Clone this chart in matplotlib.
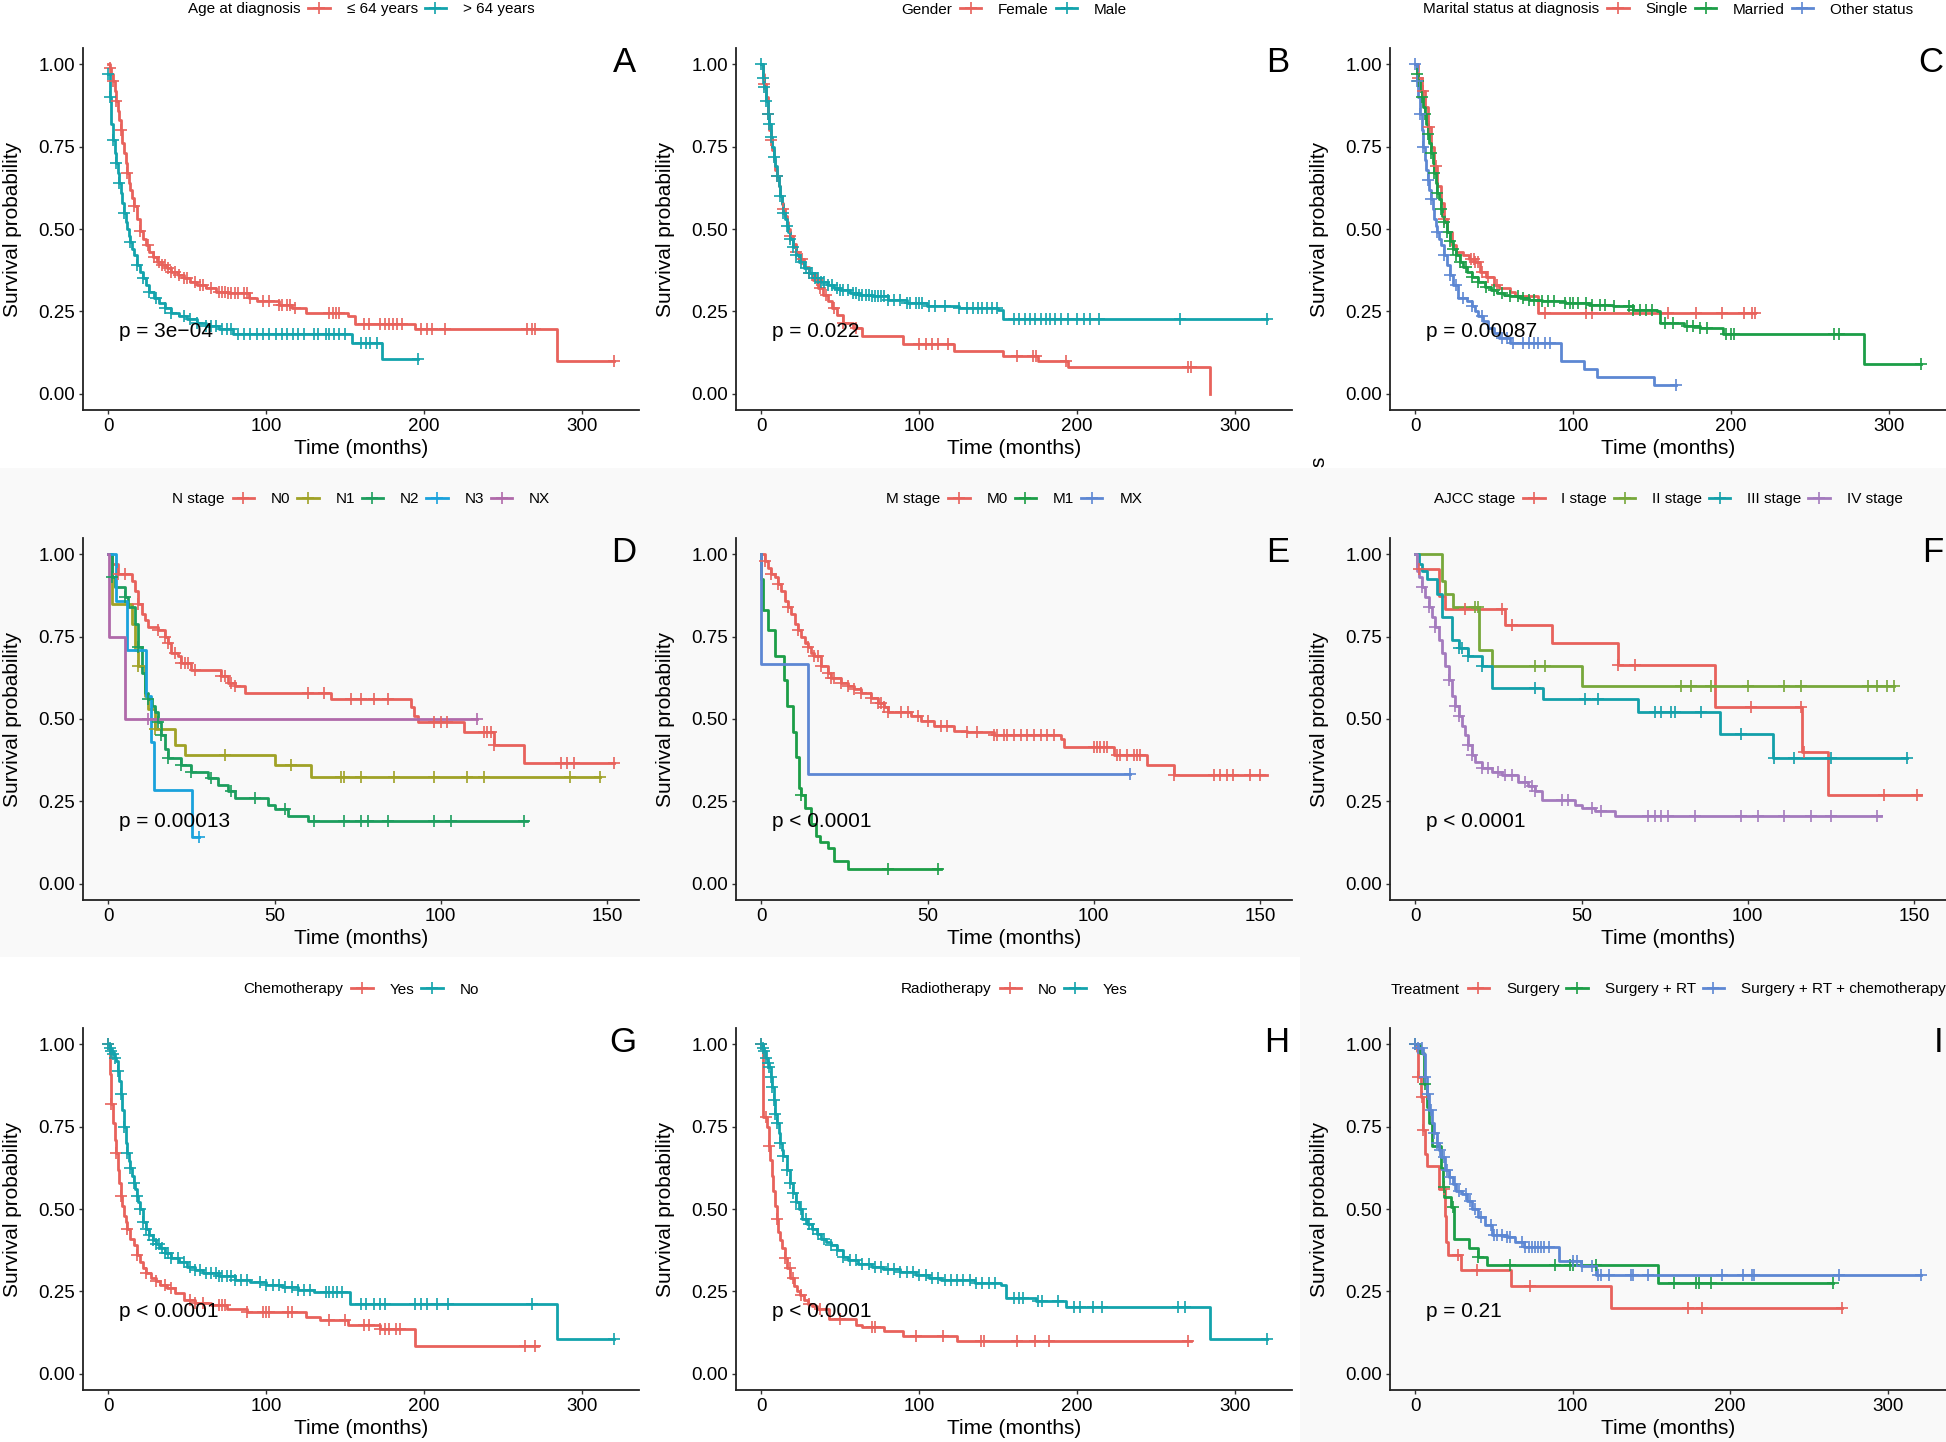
import numpy as np
import matplotlib
matplotlib.use('Agg')
import matplotlib.pyplot as plt
from matplotlib.lines import Line2D
from matplotlib.patches import Rectangle
from matplotlib.offsetbox import HPacker

plt.rcParams['font.family'] = ['Liberation Sans', 'DejaVu Sans']

# ---- colours (ggplot hue palettes as they look in the figure)
red = '#E8625C'
teal = '#13A3AC'
green3 = '#1C9E47'
blue3 = '#5D87D3'

# ---- A: age at diagnosis
a_labels = ['\u2264 64 years', '> 64 years']
a_times = [
    [0, 1, 2, 3, 4, 5, 6, 7, 8, 9, 10, 11, 12, 13, 14, 15, 16, 18, 20, 22, 24, 26, 28, 31, 34, 37, 40, 44, 48, 52,
     56, 62, 68, 76, 89, 94, 108, 116, 125, 152, 156, 194, 284, 320],
    [0, 1, 2, 3, 4, 5, 6, 7, 8, 9, 10, 11, 12, 13, 14, 15, 16, 18, 20, 22, 24, 26, 29, 32, 36, 40, 45, 50, 56, 62,
     70, 79, 154, 173, 196]]
a_surv = [
    [1.0, 0.99, 0.97, 0.95, 0.92, 0.89, 0.86, 0.83, 0.80, 0.76, 0.73, 0.70, 0.67, 0.64, 0.62, 0.595, 0.57, 0.53,
     0.495, 0.47, 0.45, 0.43, 0.415, 0.40, 0.39, 0.38, 0.37, 0.36, 0.35, 0.34, 0.33, 0.32, 0.31, 0.305, 0.29, 0.28,
     0.27, 0.26, 0.245, 0.235, 0.21, 0.195, 0.10, 0.10],
    [0.97, 0.90, 0.82, 0.77, 0.73, 0.70, 0.67, 0.64, 0.61, 0.58, 0.55, 0.52, 0.50, 0.48, 0.46, 0.44, 0.42, 0.39,
     0.37, 0.35, 0.33, 0.31, 0.29, 0.275, 0.26, 0.245, 0.235, 0.225, 0.215, 0.205, 0.195, 0.18, 0.155, 0.105, 0.105]]
a_cens = [
    [1, 3, 5, 8, 12, 16, 20, 25, 29, 32, 34, 36, 38, 40, 42, 45, 48, 50, 55, 58, 60, 65, 70, 72, 74, 76, 78, 80, 82,
     86, 88, 90, 98, 102, 108, 110, 113, 115, 118, 140, 142, 144, 146, 162, 165, 172, 175, 178, 180, 183, 186, 198,
     202, 205, 213, 265, 268, 270, 320],
    [0, 1, 3, 5, 7, 10, 14, 18, 22, 26, 30, 36, 40, 48, 52, 56, 62, 65, 68, 72, 75, 78, 82, 86, 90, 94, 98, 102, 106,
     110, 113, 117, 120, 124, 130, 133, 138, 140, 143, 146, 150, 160, 163, 166, 170, 196]]

# ---- B: gender
b_labels = ['Female', 'Male']
b_times = [
    [0, 1, 2, 3, 4, 5, 6, 7, 8, 9, 10, 11, 12, 13, 14, 15, 16, 17, 18, 20, 22, 24, 27, 30, 33, 36, 39, 42, 45, 48,
     52, 58, 64, 90, 122, 153, 175, 194, 284],
    [0, 1, 2, 3, 4, 5, 6, 7, 8, 9, 10, 11, 12, 13, 14, 15, 16, 17, 18, 20, 22, 24, 27, 30, 34, 38, 42, 46, 50, 56,
     62, 70, 80, 92, 105, 125, 150, 153, 320]]
b_surv = [
    [1.0, 0.97, 0.94, 0.90, 0.85, 0.80, 0.77, 0.74, 0.71, 0.68, 0.66, 0.63, 0.60, 0.58, 0.56, 0.54, 0.52, 0.50,
     0.48, 0.455, 0.43, 0.41, 0.385, 0.365, 0.345, 0.32, 0.30, 0.28, 0.26, 0.24, 0.215, 0.20, 0.175, 0.15, 0.13,
     0.115, 0.10, 0.08, 0.0],
    [1.0, 0.96, 0.93, 0.89, 0.85, 0.82, 0.78, 0.75, 0.72, 0.69, 0.66, 0.63, 0.60, 0.575, 0.55, 0.53, 0.51, 0.49,
     0.47, 0.445, 0.42, 0.40, 0.38, 0.365, 0.35, 0.34, 0.33, 0.32, 0.315, 0.305, 0.30, 0.295, 0.285, 0.275, 0.265,
     0.26, 0.255, 0.225, 0.225]]
b_cens = [
    [2, 4, 6, 10, 14, 18, 22, 26, 30, 35, 37, 41, 46, 52, 60, 100, 104, 108, 112, 118, 162, 172, 174, 193, 270, 272],
    [0, 1, 2, 3, 4, 5, 6, 8, 10, 12, 14, 16, 18, 20, 22, 25, 28, 30, 32, 34, 36, 38, 40, 42, 45, 48, 50, 52, 55, 58,
     60, 62, 64, 66, 68, 70, 72, 74, 76, 78, 80, 84, 88, 92, 94, 98, 100, 102, 106, 110, 116, 125, 130, 134, 137,
     140, 143, 146, 149, 160, 163, 167, 170, 173, 177, 180, 183, 186, 190, 194, 200, 204, 208, 214, 265, 320]]

# ---- C: marital status
c_labels = ['Single', 'Married', 'Other status']
c_times = [
    [0, 2, 4, 6, 8, 10, 12, 14, 16, 18, 20, 23, 26, 30, 34, 38, 41, 45, 50, 53, 60, 63, 78, 215],
    [0, 1, 2, 3, 4, 5, 6, 7, 8, 9, 10, 11, 12, 13, 14, 15, 16, 17, 18, 20, 22, 24, 26, 28, 30, 33, 36, 40, 44, 48,
     52, 56, 60, 66, 72, 80, 95, 110, 125, 138, 153, 155, 170, 180, 195, 284, 320],
    [0, 1, 2, 3, 4, 5, 6, 7, 8, 9, 10, 11, 12, 13, 14, 15, 16, 18, 20, 22, 24, 27, 33, 36, 38, 40, 43, 46, 50, 53,
     60, 92, 107, 115, 151, 165]]
c_surv = [
    [1.0, 0.96, 0.92, 0.87, 0.81, 0.75, 0.69, 0.63, 0.58, 0.53, 0.49, 0.45, 0.43, 0.42, 0.41, 0.40, 0.37, 0.355,
     0.33, 0.32, 0.31, 0.295, 0.245, 0.245],
    [1.0, 0.97, 0.95, 0.92, 0.90, 0.87, 0.85, 0.82, 0.79, 0.76, 0.73, 0.70, 0.67, 0.64, 0.61, 0.59, 0.56, 0.54,
     0.52, 0.49, 0.465, 0.44, 0.42, 0.40, 0.385, 0.37, 0.355, 0.34, 0.325, 0.315, 0.305, 0.30, 0.295, 0.29, 0.285,
     0.28, 0.275, 0.27, 0.265, 0.255, 0.25, 0.215, 0.205, 0.20, 0.18, 0.09, 0.09],
    [1.0, 0.95, 0.90, 0.85, 0.80, 0.75, 0.71, 0.68, 0.65, 0.62, 0.59, 0.56, 0.53, 0.51, 0.49, 0.47, 0.45, 0.42,
     0.39, 0.36, 0.33, 0.29, 0.28, 0.265, 0.25, 0.235, 0.22, 0.20, 0.185, 0.17, 0.155, 0.10, 0.075, 0.05, 0.025,
     0.025]]
c_cens = [
    [2, 5, 9, 13, 18, 35, 37, 38, 40, 42, 46, 52, 82, 108, 112, 160, 178, 194, 208, 213, 215],
    [1, 2, 4, 6, 8, 10, 12, 14, 16, 18, 20, 22, 24, 26, 28, 32, 36, 40, 45, 50, 55, 60, 65, 68, 72, 75, 80, 84, 88,
     95, 98, 100, 103, 108, 112, 117, 120, 126, 135, 138, 142, 146, 150, 158, 163, 172, 176, 180, 185, 197, 200,
     202, 265, 268, 320],
    [0, 1, 3, 5, 8, 10, 14, 18, 22, 26, 30, 36, 42, 55, 58, 62, 68, 72, 75, 78, 82, 85, 165]]

# ---- D: N stage
d_labels = ['N0', 'N1', 'N2', 'N3', 'NX']
d_times = [
    [0, 1, 3, 7, 8, 9, 10, 11, 12, 15, 17, 18, 19, 21, 22, 25, 34, 36, 38, 41, 67, 91, 92, 93, 107, 116, 125, 152],
    [0, 1, 7, 8, 9, 11, 12, 14, 20, 23, 50, 61, 148],
    [0, 1, 2, 5, 6, 8, 9, 10, 11, 12, 13, 14, 15, 16, 17, 18, 22, 25, 30, 33, 36, 38, 48, 50, 54, 60, 126],
    [0, 2.2, 5.6, 11.2, 12.8, 13.9, 25.2, 27.3],
    [0, 0.3, 5, 111]]
d_surv = [
    [1.0, 0.97, 0.94, 0.92, 0.89, 0.85, 0.82, 0.80, 0.78, 0.77, 0.75, 0.73, 0.70, 0.69, 0.67, 0.65, 0.63, 0.61,
     0.60, 0.58, 0.56, 0.535, 0.51, 0.49, 0.46, 0.42, 0.365, 0.365],
    [1.0, 0.85, 0.79, 0.71, 0.66, 0.57, 0.53, 0.47, 0.42, 0.39, 0.36, 0.325, 0.325],
    [1.0, 0.93, 0.90, 0.87, 0.84, 0.79, 0.72, 0.64, 0.58, 0.56, 0.54, 0.52, 0.49, 0.45, 0.41, 0.38, 0.36, 0.34,
     0.32, 0.30, 0.28, 0.26, 0.24, 0.225, 0.205, 0.19, 0.19],
    [1.0, 0.86, 0.71, 0.57, 0.43, 0.285, 0.14, 0.14],
    [1.0, 0.75, 0.50, 0.50]]
d_cens = [
    [3, 5, 9, 15, 17, 18, 20, 22, 23, 24, 26, 34, 35, 37, 38, 60, 65, 73, 76, 80, 84, 98, 100, 102, 113, 114, 115,
     116, 136, 138, 140, 152],
    [9, 14, 35, 55, 70, 71, 76, 86, 98, 108, 113, 139, 148],
    [1, 5, 9, 12, 15, 16, 18, 22, 25, 31, 37, 44, 53, 62, 71, 76, 78, 84, 98, 103, 125],
    [27.3],
    [12, 111]]

# ---- E: M stage
e_labels = ['M0', 'M1', 'MX']
e_times = [
    [0, 1, 2, 3, 4, 5, 6, 7, 8, 9, 10, 11, 12, 13, 14, 15, 16, 18, 20, 21, 24, 26, 28, 30, 33, 35, 37, 38, 45, 48,
     52, 58, 62, 70, 90, 91, 106, 116, 124, 152],
    [0, 0, 0.6, 1.9, 4, 6.7, 7.7, 9.6, 10.4, 11.2, 12, 13, 15, 16.4, 17.6, 20, 22, 26, 54],
    [0, 0, 14, 111]]
e_surv = [
    [1.0, 0.98, 0.96, 0.94, 0.93, 0.91, 0.89, 0.86, 0.84, 0.82, 0.79, 0.77, 0.75, 0.73, 0.72, 0.70, 0.69, 0.66,
     0.64, 0.625, 0.61, 0.60, 0.59, 0.58, 0.565, 0.55, 0.535, 0.52, 0.51, 0.495, 0.48, 0.465, 0.46, 0.45, 0.44,
     0.415, 0.39, 0.36, 0.33, 0.33],
    [1.0, 0.926, 0.83, 0.77, 0.69, 0.62, 0.54, 0.46, 0.385, 0.29, 0.27, 0.23, 0.18, 0.145, 0.127, 0.107, 0.07,
     0.045, 0.045],
    [1.0, 0.667, 0.333, 0.333]]
e_cens = [
    [1, 3, 5, 8, 11, 14, 16, 17, 18, 20, 21, 22, 24, 26, 28, 30, 33, 35, 36, 37, 38, 42, 44, 47, 50, 54, 56, 62,
     65, 70, 71, 73, 74, 76, 78, 80, 82, 84, 86, 88, 100, 101, 102, 103, 104, 107, 108, 110, 112, 113, 114, 124,
     136, 138, 140, 142, 147, 150],
    [12, 38, 53],
    [111]]

# ---- F: AJCC stage
f_labels = ['I stage', 'II stage', 'III stage', 'IV stage']
f_times = [
    [0, 0.4, 7.2, 9, 26.9, 41.1, 60.9, 90.1, 116.2, 124.2, 152],
    [0, 8.1, 9, 11.2, 19.1, 23, 50.1, 144],
    [0, 1, 2, 3.5, 6.5, 8, 11, 13, 16, 20, 23, 38.5, 67, 91.5, 107.5, 148],
    [0, 0.5, 1, 2, 3, 4, 5, 6, 7, 8, 9, 10, 11, 12, 13, 14, 15, 16, 17, 18, 20, 23, 26, 31, 34, 36, 38, 48, 50, 54,
     60, 140]]
f_surv = [
    [1.0, 0.955, 0.875, 0.835, 0.785, 0.73, 0.665, 0.535, 0.40, 0.268, 0.268],
    [1.0, 0.92, 0.88, 0.84, 0.71, 0.66, 0.60, 0.60],
    [1.0, 0.97, 0.95, 0.925, 0.88, 0.81, 0.74, 0.715, 0.69, 0.66, 0.595, 0.56, 0.52, 0.455, 0.38, 0.38],
    [1.0, 0.95, 0.93, 0.90, 0.87, 0.84, 0.81, 0.78, 0.74, 0.70, 0.66, 0.62, 0.57, 0.54, 0.51, 0.48, 0.45, 0.42,
     0.39, 0.37, 0.35, 0.34, 0.33, 0.31, 0.295, 0.28, 0.255, 0.24, 0.23, 0.22, 0.205, 0.205]]
f_cens = [
    [1, 15, 26, 29, 61, 66, 101, 116, 117, 141, 151],
    [18, 19, 36, 39, 80, 83, 89, 100, 111, 116, 136, 139, 142, 144],
    [13, 14, 16, 20, 36, 51, 55, 72, 74, 77, 78, 86, 98, 108, 114, 125, 148],
    [2, 4, 6, 10, 12, 13, 16, 17, 20, 22, 25, 27, 29, 33, 35, 36, 44, 46, 53, 56, 70, 72, 74, 76, 84, 98, 103, 111,
     119, 125, 139]]

# ---- G: chemotherapy
g_labels = ['Yes', 'No']
g_times = [
    [0, 1, 2, 3, 4, 5, 6, 7, 8, 9, 10, 11, 12, 14, 16, 18, 20, 22, 24, 27, 30, 33, 37, 42, 48, 55, 65, 75, 88, 125,
     134, 152, 172, 194, 272],
    [0, 1, 2, 3, 4, 5, 6, 7, 8, 9, 10, 11, 12, 13, 14, 15, 16, 17, 18, 19, 20, 22, 24, 26, 28, 30, 33, 36, 40, 45,
     50, 55, 60, 70, 80, 90, 100, 110, 120, 130, 153, 284, 320]]
g_surv = [
    [1.0, 0.91, 0.82, 0.76, 0.71, 0.67, 0.62, 0.58, 0.54, 0.51, 0.48, 0.46, 0.44, 0.41, 0.39, 0.36, 0.34, 0.32,
     0.305, 0.29, 0.28, 0.27, 0.26, 0.245, 0.225, 0.215, 0.207, 0.197, 0.187, 0.172, 0.162, 0.148, 0.136, 0.085,
     0.085],
    [1.0, 0.99, 0.98, 0.97, 0.96, 0.95, 0.92, 0.89, 0.85, 0.80, 0.75, 0.70, 0.67, 0.645, 0.625, 0.60, 0.58, 0.56,
     0.54, 0.52, 0.50, 0.46, 0.44, 0.42, 0.405, 0.395, 0.38, 0.365, 0.35, 0.34, 0.325, 0.315, 0.305, 0.295, 0.285,
     0.278, 0.27, 0.262, 0.255, 0.248, 0.21, 0.105, 0.105]]
g_cens = [
    [0, 2, 5, 8, 12, 18, 24, 30, 36, 40, 52, 55, 60, 70, 72, 74, 88, 98, 100, 102, 114, 116, 140, 150, 162, 165,
     172, 175, 178, 182, 185, 264, 270],
    [0, 1, 2, 3, 4, 6, 8, 10, 12, 14, 16, 18, 20, 22, 24, 26, 28, 30, 32, 34, 36, 38, 40, 44, 48, 52, 55, 58, 62,
     65, 68, 70, 72, 75, 78, 80, 84, 88, 96, 100, 104, 108, 112, 116, 120, 124, 128, 138, 140, 142, 145, 148, 160,
     163, 168, 172, 175, 194, 198, 202, 208, 215, 268, 320]]

# ---- H: radiotherapy
h_labels = ['No', 'Yes']
h_times = [
    [0, 0.8, 1.3, 3.4, 4.7, 5.5, 6.6, 7.5, 8.7, 9.8, 10.8, 12, 13.4, 15, 16.6, 18.5, 20.5, 22.5, 24.5, 27, 29.7,
     32, 35, 43, 60, 64, 78, 90, 124, 272],
    [0, 1, 2, 3, 4, 5, 6, 7, 8, 9, 10, 11, 12, 13, 14, 16, 18, 20, 22, 24, 26, 29, 32, 35, 38, 41, 44, 48, 52, 55,
     61, 70, 77, 88, 98, 106, 114, 135, 152, 155, 174, 193, 284, 320]]
h_surv = [
    [1.0, 0.90, 0.78, 0.75, 0.69, 0.65, 0.60, 0.555, 0.51, 0.47, 0.43, 0.405, 0.38, 0.35, 0.32, 0.29, 0.265, 0.25,
     0.24, 0.225, 0.212, 0.205, 0.197, 0.167, 0.147, 0.142, 0.13, 0.115, 0.10, 0.10],
    [1.0, 0.99, 0.98, 0.96, 0.945, 0.93, 0.90, 0.87, 0.83, 0.79, 0.76, 0.73, 0.70, 0.68, 0.66, 0.62, 0.58, 0.55,
     0.52, 0.50, 0.47, 0.455, 0.44, 0.425, 0.41, 0.40, 0.39, 0.375, 0.355, 0.345, 0.334, 0.325, 0.318, 0.308,
     0.298, 0.29, 0.283, 0.275, 0.268, 0.231, 0.22, 0.202, 0.105, 0.105]]
h_cens = [
    [0, 3, 5, 10, 15, 18, 20, 25, 30, 37, 50, 70, 72, 98, 115, 139, 141, 162, 173, 182, 270],
    [0, 1, 2, 3, 4, 5, 6, 7, 8, 9, 10, 12, 14, 16, 18, 20, 22, 25, 28, 30, 33, 36, 40, 44, 48, 52, 56, 60, 64, 68,
     72, 76, 80, 84, 88, 92, 96, 100, 104, 108, 112, 116, 120, 124, 128, 132, 136, 140, 144, 148, 160, 163, 166,
     175, 178, 188, 198, 202, 210, 216, 264, 268, 320]]

# ---- I: treatment
i_labels = ['Surgery', 'Surgery + RT', 'Surgery + RT + chemotherapy']
i_times = [
    [0, 1, 2, 3.4, 4.7, 6, 7.3, 15, 19, 19.6, 21, 29, 61, 124, 271],
    [0, 3, 5.5, 7.3, 9, 10.7, 16.5, 17.8, 18.3, 23, 24.3, 34, 40, 45.7, 154, 265],
    [0, 2, 4.7, 6, 7.3, 8.6, 10.7, 12, 13.8, 15, 16.5, 19, 21.7, 24, 25.6, 29.5, 33, 36, 40, 44, 49, 58, 63.5, 68.8,
     91, 105, 114.5, 321]]
i_surv = [
    [1.0, 0.98, 0.90, 0.84, 0.74, 0.667, 0.63, 0.56, 0.48, 0.40, 0.36, 0.315, 0.265, 0.198, 0.198],
    [1.0, 0.975, 0.88, 0.81, 0.76, 0.69, 0.626, 0.566, 0.535, 0.505, 0.41, 0.38, 0.355, 0.33, 0.275, 0.275],
    [1.0, 0.99, 0.97, 0.90, 0.85, 0.80, 0.76, 0.73, 0.70, 0.68, 0.657, 0.62, 0.596, 0.575, 0.556, 0.545, 0.525,
     0.50, 0.475, 0.45, 0.42, 0.414, 0.40, 0.384, 0.343, 0.328, 0.30, 0.30]]
i_cens = [
    [2, 4, 5, 18, 27, 39, 73, 173, 182, 271],
    [0, 6, 18, 24, 40, 60, 89, 98, 100, 115, 164, 178, 180, 188, 265],
    [0, 2, 4, 6, 8, 10, 12, 14, 16, 18, 20, 22, 25, 28, 32, 35, 38, 42, 48, 50, 52, 55, 58, 60, 68, 70, 72, 74, 76,
     78, 80, 82, 85, 100, 103, 106, 112, 116, 118, 123, 137, 138, 148, 195, 208, 214, 215, 269, 321]]

panels = [
    ('A', 'Age at diagnosis', a_labels, [red, teal], a_times, a_surv, a_cens, 'p = 3e\u221204', [0, 100, 200, 300]),
    ('B', 'Gender', b_labels, [red, teal], b_times, b_surv, b_cens, 'p = 0.022', [0, 100, 200, 300]),
    ('C', 'Marital status at diagnosis', c_labels, [red, green3, blue3], c_times, c_surv, c_cens, 'p = 0.00087',
     [0, 100, 200, 300]),
    ('D', 'N stage', d_labels, [red, '#A0A227', '#1C9E5E', '#1AA2DC', '#B06AAA'], d_times, d_surv, d_cens,
     'p = 0.00013', [0, 50, 100, 150]),
    ('E', 'M stage', e_labels, [red, green3, blue3], e_times, e_surv, e_cens, 'p < 0.0001', [0, 50, 100, 150]),
    ('F', 'AJCC stage', f_labels, [red, '#77A83B', '#13A0AA', '#A47BBE'], f_times, f_surv, f_cens, 'p < 0.0001',
     [0, 50, 100, 150]),
    ('G', 'Chemotherapy', g_labels, [red, teal], g_times, g_surv, g_cens, 'p < 0.0001', [0, 100, 200, 300]),
    ('H', 'Radiotherapy', h_labels, [red, teal], h_times, h_surv, h_cens, 'p < 0.0001', [0, 100, 200, 300]),
    ('I', 'Treatment', i_labels, [red, green3, blue3], i_times, i_surv, i_cens, 'p = 0.21', [0, 100, 200, 300]),
]

W, H = 1946, 1442
col_x = [83, 736, 1390]
row_y = [48, 538, 1028]
AW, AH = 556, 362

fig = plt.figure(figsize=(W / 100, H / 100), dpi=100)
fig.patch.set_facecolor('white')

# light grey panel backgrounds (row 2 and panel I)
fig.add_artist(Rectangle((0, 1 - 957 / H), 1, (957 - 468) / H, transform=fig.transFigure,
                         facecolor='#f9f9f9', edgecolor='none', zorder=-10))
fig.add_artist(Rectangle((1300 / W, 0), 1 - 1300 / W, (H - 957) / H, transform=fig.transFigure,
                         facecolor='#f9f9f9', edgecolor='none', zorder=-10))

for k, (letter, title, labels, colors, times, surv, cens, pval, xticks) in enumerate(panels):
    r, c = divmod(k, 3)
    ax = fig.add_axes([col_x[c] / W, 1 - (row_y[r] + AH) / H, AW / W, AH / H])
    ax.set_facecolor('none')

    for t, s, col in zip(times, surv, colors):
        ax.step(t, s, where='post', color=col, lw=2.0, zorder=2)
    for t, s, cs, col in zip(times, surv, cens, colors):
        t = np.array(t)
        s = np.array(s)
        idx = np.searchsorted(t, cs, side='right') - 1
        ax.plot(cs, s[idx], ls='none', marker='+', ms=8, mew=1.2, color=col, zorder=3)

    xmax = max(t[-1] for t in times)
    ax.set_xlim(-0.05 * xmax, 1.05 * xmax)
    ax.set_ylim(-0.05, 1.05)
    ax.set_xticks(xticks)
    ax.set_yticks([0, 0.25, 0.5, 0.75, 1.0])
    ax.set_yticklabels(['0.00', '0.25', '0.50', '0.75', '1.00'])
    for side in ['top', 'right']:
        ax.spines[side].set_visible(False)
    for side in ['left', 'bottom']:
        ax.spines[side].set_linewidth(1.3)
        ax.spines[side].set_color('#222222')
    ax.tick_params(labelsize=13.5, length=3, width=1.0, color='#333333', labelcolor='black', pad=2.5)

    ax.set_xlabel('Time (months)', fontsize=15)
    ax.xaxis.set_label_coords(0.5, -0.081)
    ax.set_ylabel('Survival probability', fontsize=15)
    ax.yaxis.set_label_coords(-0.11, 0.5)

    ax.text(0.065, 0.19, pval, transform=ax.get_yaxis_transform(), fontsize=15, va='center', ha='left', zorder=4)
    ax.text(0.995, 1.005, letter, transform=ax.transAxes, fontsize=25, ha='right', va='top')

    handles = [Line2D([0], [0], color=col, lw=2.0, marker='+', ms=8, mew=1.2) for col in colors]
    leg = ax.legend(handles, labels, title=title, ncol=len(labels), loc='center',
                    bbox_to_anchor=(0.5, 1 + 38.5 / AH), frameon=False, fontsize=11, title_fontsize=11,
                    handlelength=1.4, handletextpad=1.1, columnspacing=0.45, borderpad=0, borderaxespad=0)
    # put the legend title on the left, like ggplot
    box = leg._legend_box
    hp = HPacker(pad=0, sep=6, align='center', children=[leg._legend_title_box, leg._legend_handle_box])
    hp.set_figure(fig)
    box._children = [hp]

# stray rotated letter left over from the source montage
fig.text(1319 / W, 1 - 462 / H, 's', rotation=90, fontsize=15, ha='center', va='center')

fig.savefig('out.png', dpi=100)
